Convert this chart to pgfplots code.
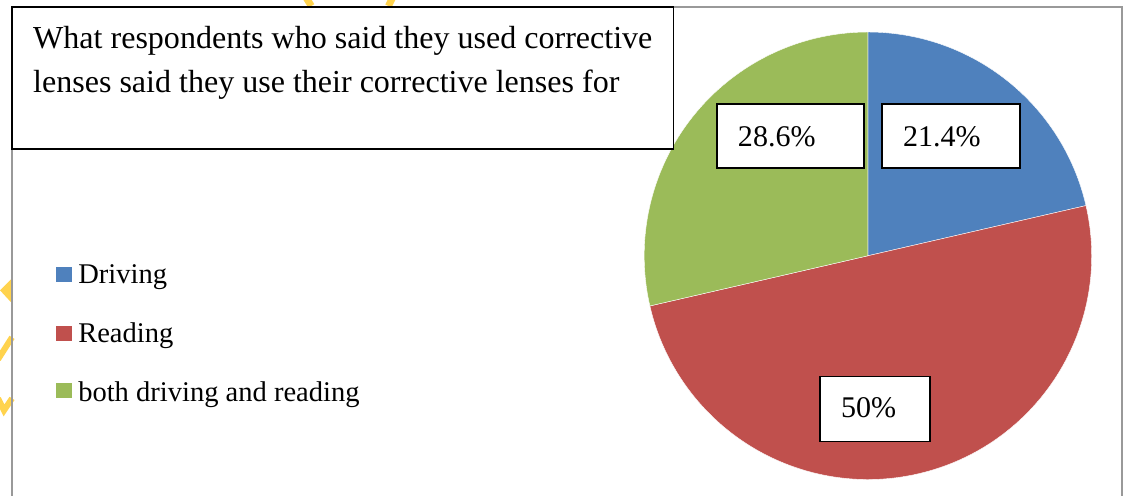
\documentclass[border=0pt]{standalone}
\usepackage{pgfplots}
\pgfplotsset{compat=1.18}
\usepackage{fontspec}
\setmainfont{Liberation Serif}
\definecolor{cblue}{HTML}{4F81BD}
\definecolor{cred}{HTML}{C0504D}
\definecolor{cgreen}{HTML}{9BBB59}
\definecolor{cyel}{HTML}{FFD34E}
\begin{document}
\begin{tikzpicture}
% shares (percent): Driving, Reading, both driving and reading
\def\vA{21.4}\def\vB{50}\def\vC{28.6}
\pgfmathsetmacro\aA{90}
\pgfmathsetmacro\aB{\aA-3.6*\vA}
\pgfmathsetmacro\aC{\aB-3.6*\vB}
\pgfmathsetmacro\aD{\aC-3.6*\vC}
\begin{axis}[width=1123pt,height=495pt,scale only axis,
  xmin=0,xmax=1123,ymin=0,ymax=495,hide axis,clip=true]
% yellow artefacts
\fill[cyel] (axis cs:0,205) -- (axis cs:12,217) -- (axis cs:12,192) -- cycle;
\draw[cyel,line width=6pt] (axis cs:-2,136) -- (axis cs:12,158);
\draw[cyel,line width=6pt] (axis cs:-2,97) -- (axis cs:4,85) -- (axis cs:12,97);
\draw[cyel,line width=7pt] (axis cs:306,497) -- (axis cs:311,489);
\draw[cyel,line width=7pt] (axis cs:392,497) -- (axis cs:388,489);
% outer frame
\draw[gray!80,line width=1.6pt] (axis cs:12,-5) -- (axis cs:12,488) -- (axis cs:1121,488) -- (axis cs:1121,-5);
% pie
\fill[cblue,draw=white,line width=0.4pt] (axis cs:867,239.5) -- ++(\aA:223.5pt) arc[start angle=\aA,end angle=\aB,radius=223.5pt] -- cycle;
\fill[cred,draw=white,line width=0.4pt] (axis cs:867,239.5) -- ++(\aB:223.5pt) arc[start angle=\aB,end angle=\aC,radius=223.5pt] -- cycle;
\fill[cgreen,draw=white,line width=0.4pt] (axis cs:867,239.5) -- ++(\aC:223.5pt) arc[start angle=\aC,end angle=\aD,radius=223.5pt] -- cycle;
% title box
\draw[black,line width=1.5pt,fill=white] (axis cs:12,346) rectangle (axis cs:673,488);
\node[anchor=base west,inner sep=0pt,font=\fontsize{32}{38}\selectfont] at (axis cs:33,447) {What respondents who said they used corrective};
\node[anchor=base west,inner sep=0pt,font=\fontsize{32}{38}\selectfont] at (axis cs:33,403) {lenses said they use their corrective lenses for};
% data labels
\draw[black,line width=1.5pt,fill=white] (axis cs:716,327) rectangle (axis cs:863,391);
\node[anchor=base west,inner sep=0pt,font=\fontsize{30}{36}\selectfont] at (axis cs:737,349) {28.6\%};
\draw[black,line width=1.5pt,fill=white] (axis cs:881,327) rectangle (axis cs:1019,391);
\node[anchor=base west,inner sep=0pt,font=\fontsize{30}{36}\selectfont] at (axis cs:902,349) {21.4\%};
\draw[black,line width=1.5pt,fill=white] (axis cs:819,54) rectangle (axis cs:929,119);
\node[anchor=base west,inner sep=0pt,font=\fontsize{30}{36}\selectfont] at (axis cs:840,78) {50\%};
% legend
\fill[cblue] (axis cs:56,213) rectangle (axis cs:72,228);
\fill[cred] (axis cs:56,154) rectangle (axis cs:72,169);
\fill[cgreen] (axis cs:56,97) rectangle (axis cs:72,112);
\node[anchor=base west,inner sep=0pt,font=\fontsize{28.5}{33}\selectfont] at (axis cs:78,212) {Driving};
\node[anchor=base west,inner sep=0pt,font=\fontsize{28.5}{33}\selectfont] at (axis cs:78,153) {Reading};
\node[anchor=base west,inner sep=0pt,font=\fontsize{28.5}{33}\selectfont] at (axis cs:78,94) {both driving and reading};
\end{axis}
\end{tikzpicture}
\end{document}
